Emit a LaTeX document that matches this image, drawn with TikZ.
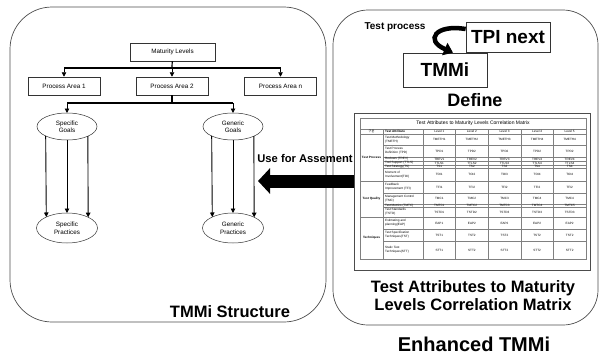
\documentclass[tikz,border=0pt]{standalone}
\usepackage{fontspec}
\setmainfont{Liberation Sans}
\newfontfamily\krfont{Noto Sans CJK KR}
\usetikzlibrary{arrows.meta,shapes.geometric}

\tikzset{
  panel/.style={draw=black!70, line width=0.7pt, rounded corners=#1},
  areabox/.style={draw=black!80, line width=0.5pt, minimum width=72pt, minimum height=18pt, inner sep=0pt, font=\fontsize{6.3}{7}\selectfont},
  goal/.style={ellipse, draw=black!80, line width=0.5pt, fill=white, minimum width=60pt, minimum height=27pt, inner sep=0pt, outer sep=0pt, align=center, font=\fontsize{6.3}{7.5}\selectfont},
  bus/.style={line width=1.2pt},
  feed/.style={line width=0.9pt, -{Triangle[length=4.5pt,width=4.5pt]}},
  bigtitle/.style={font=\bfseries\fontsize{16.5}{18}\selectfont},
  namebox/.style={draw=black!80, line width=0.7pt, inner sep=0pt, font=\bfseries\fontsize{19}{21}\selectfont},
  cell/.style={inner sep=0pt, font=\fontsize{3.1}{3.7}\selectfont},
  attr/.style={cell, anchor=west, align=left},
  grid/.style={draw=black!50, line width=0.25pt}
}

\begin{document}
\begin{tikzpicture}[x=1pt, y=-1pt]
  \useasboundingbox (0,0) rectangle (600,356);

  \draw[panel=42pt] (10,7) rectangle (326,322);
  \node[areabox, minimum width=85pt] (ml) at (172.5,52) {Maturity Levels};
  \node[areabox] (pa1) at (64,86) {Process Area 1};
  \node[areabox] (pa2) at (172,86) {Process Area 2};
  \node[areabox] (pan) at (280.5,86) {Process Area n};
  \coordinate (mlj) at (172,68);
  \draw[bus] (ml) -- (mlj);
  \draw[bus] (mlj -| pa1) -- (mlj -| pan);
  \foreach \n in {pa1,pa2,pan}
    \draw[feed] (mlj -| \n) -- (\n);

  \node[goal] (sg) at (67,126.5) {Specific\\Goals};
  \node[goal] (gg) at (233,126.5) {Generic\\Goals};
  \coordinate (paj) at (172,103);
  \draw[bus] (pa2) -- (paj);
  \draw[bus] (paj -| sg) -- (paj -| gg);
  \draw[feed] (paj -| sg) -- (sg);
  \draw[feed] (paj -| gg) -- (gg);

  \node[goal, minimum width=61pt, minimum height=30pt] (sp) at (67,228) {Specific\\Practices};
  \node[goal, minimum width=61pt, minimum height=30pt] (gp) at (233,228) {Generic\\Practices};
  \foreach \g/\p in {sg/sp, gg/gp} {
    \draw[feed] (\g.204.7) -- (\p.152.6);
    \draw[feed] (\g.south) -- (\p.north);
    \draw[feed] (\g.335.3) -- (\p.27.4);
  }
  \node[bigtitle] (structure) at (230,312) {TMMi Structure};

  \draw[panel=35pt] (333,10) rectangle (598,325);
  \node[font=\bfseries\fontsize{10}{12}\selectfont] (tp) at (395,27) {Test process};
  \node[namebox, minimum width=84pt, minimum height=30pt] (tpi) at (508,37) {TPI next};
  \node[namebox, minimum width=84pt, minimum height=34pt] (tmmi) at (445,70) {TMMi};
  \draw[line width=4.5pt, -{Triangle[length=9pt,width=13pt]}]
    ([yshift=8pt]tpi.west) .. controls (436,24) and (424,40) .. ([xshift=8pt]tmmi.north);
  \node[font=\bfseries\fontsize{18}{20}\selectfont] (define) at (475,100) {Define};

  \node[draw=black!70, line width=0.8pt, minimum width=236pt, minimum height=157pt, inner sep=0pt] (frame) at (472,191.5) {};
  \draw[grid] (360,118) rectangle (586,259);
  \foreach \y in {129,134,181,217}
    \draw[grid] (360,\y) -- (586,\y);
  \foreach \y in {145,157,161,165,168,193,204,207,229,241}
    \draw[grid] (383,\y) -- (586,\y);
  \foreach \x in {383,423,455.6,488.2,520.8,553.4}
    \draw[grid] (\x,129) -- (\x,259);

  \node[cell, font=\fontsize{5}{6}\selectfont] (mtitle) at (473,123.5) {Test Attributes to Maturity Levels Correlation Matrix};
  \node[cell] (kind) at (371.5,131.5) {\krfont 구분};
  \node[attr, font=\bfseries\fontsize{3.1}{3.7}\selectfont] (attrhead) at (385,131.5) {Test Attribute};
  \foreach \i in {1,...,5}
    \node[cell] (lv\i) at ({423+32.6*(\i-0.5)},131.5) {Level \i};
  \node[cell, font=\bfseries\fontsize{3.1}{3.7}\selectfont] (grp1) at (371.5,157.5) {Test Process};
  \node[cell, font=\bfseries\fontsize{3.1}{3.7}\selectfont] (grp2) at (371.5,199) {Test Quality};
  \node[cell, font=\bfseries\fontsize{3.1}{3.7}\selectfont] (grp3) at (371.5,238) {Techniques};

  \foreach \ya/\yb/\attr/\va/\vb/\vc/\vd/\ve in {
    134/145/{Test Methodology\\(TMETH)}/TMETH1/TMETH2/TMETH3/TMETH4/TMETH4,
    145/157/{Test Process\\Definition (TPD)}/TPD1/TPD2/TPD2/TPD2/TPD2,
    157/161/{Reviews (TREV)}/TREV1/TREV2/TREV3/TREV4/TREV4,
    161/165/{Tool Support (TTLS)}/TTLS1/TTLS2/TTLS3/TTLS4/TTLS4,
    165/168/{Test Strategy(TS)}/TS1/TS2/TS3/TS4/TS4,
    168/181/{Moment of\\Involvement(TOI)}/TOI1/TOI2/TOI3/TOI4/TOI4,
    181/193/{Feedback\\Improvement (TFI)}/TFI1/TFI2/TFI2/TFI2/TFI2,
    193/204/{Management Control\\(TMC)}/TMC1/TMC2/TMC3/TMC4/TMC4,
    204/207/{Test Metrics (TMTC)}/TMTC1/TMTC2/TMTC3/TMTC4/TMTC5,
    207/217/{Test Standards\\(TSTD)}/TSTD1/TSTD2/TSTD3/TSTD3/TSTD3,
    217/229/{Estimating and\\planning(EAP)}/EAP1/EAP2/EAP2/EAP2/EAP2,
    229/241/{Test Specification\\Techniques(TST)}/TST1/TST2/TST2/TST2/TST2,
    241/259/{Static Test\\Techniques(STT)}/STT1/STT2/STT2/STT2/STT2} {
    \node[attr] (att-\ya) at (385,{(\ya+\yb)/2}) {\attr};
    \foreach \v [count=\i] in {\va,\vb,\vc,\vd,\ve}
      \node[cell] (val-\ya-\i) at ({423+32.6*(\i-0.5)},{(\ya+\yb)/2}) {\v};
  }

  \node[bigtitle, align=center] (caption) at (473,296) {Test Attributes to Maturity\\Levels Correlation Matrix};
  \node[font=\bfseries\fontsize{20}{22}\selectfont] (enhanced) at (474,344) {Enhanced TMMi};

  \coordinate (asmt) at (258,181);
  \draw[line width=13pt, -{Triangle[length=12pt,width=25pt]}] (frame.west |- asmt) -- (asmt);
  \node[font=\bfseries\fontsize{11.2}{13}\selectfont] (use) at (305,158) {Use for Assement};
\end{tikzpicture}
\end{document}
